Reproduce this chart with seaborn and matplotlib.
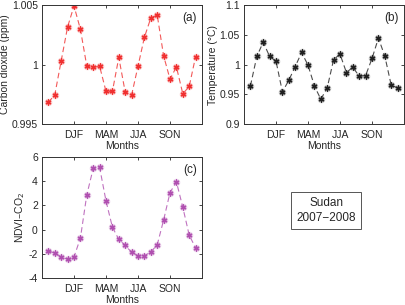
import numpy as np
import pandas as pd
import matplotlib
matplotlib.use('Agg')
import matplotlib.pyplot as plt
import seaborn as sns

# values (24 months each)
months = list(range(1, 25))
co2 = [0.99682, 0.99746, 1.00031, 1.00316, 1.00492, 1.00296, 0.99986, 0.99975,
       0.99986, 0.99774, 0.99774, 1.00059, 0.99768, 0.99743, 0.99986, 1.00229,
       1.00391, 1.00416, 1.00073, 0.99877, 0.99980, 0.99754, 0.99816, 1.00067]
temp = [0.964, 1.0135, 1.0376, 1.0135, 1.0056, 0.954, 0.9736, 0.9966,
        1.0202, 0.9989, 0.964, 0.9416, 0.9607, 1.0084, 1.0174, 0.9865,
        0.9955, 0.9803, 0.9815, 1.0101, 1.0444, 1.014, 0.9652, 0.9607]
ndvi = [-1.73, -1.96, -2.26, -2.45, -2.26, -0.70, 2.87, 5.06,
        5.14, 2.37, 0.20, -0.81, -1.31, -1.87, -2.17, -2.17,
        -1.84, -1.26, 0.79, 3.06, 3.95, 1.84, -0.46, -1.51]
season_pos = [5, 10, 15, 20]
season_lbl = ['DJF', 'MAM', 'JJA', 'SON']

sns.set_style('ticks')
plt.rcParams['font.family'] = ['Liberation Sans', 'DejaVu Sans']
plt.rcParams['axes.unicode_minus'] = False
plt.rcParams['xtick.direction'] = 'in'
plt.rcParams['ytick.direction'] = 'in'

fig = plt.figure(figsize=(4.05, 3.05), dpi=100)
ax_a = fig.add_axes([0.1037, 0.5934, 0.3951, 0.3902])
ax_b = fig.add_axes([0.6025, 0.5934, 0.3951, 0.3902])
ax_c = fig.add_axes([0.1037, 0.0885, 0.3951, 0.3967])

panels = [
    (ax_a, co2, '#f03030', 'Carbon dioxide (ppm)', (0.995, 1.005), [0.995, 1, 1.005], ['0.995', '1', '1.005'], '(a)'),
    (ax_b, temp, '#202020', 'Temperature (\u00b0C)', (0.9, 1.1), [0.9, 0.95, 1, 1.05, 1.1], ['0.9', '0.95', '1', '1.05', '1.1'], '(b)'),
    (ax_c, ndvi, '#b050b0', 'NDVI\u2013CO$_2$', (-4, 6), [-4, -2, 0, 2, 4, 6], ['-4', '-2', '0', '2', '4', '6'], '(c)'),
]

for ax, vals, col, ylab, ylim, yt, ytl, tag in panels:
    df = pd.DataFrame({'month': months, 'value': vals})
    sns.lineplot(data=df, x='month', y='value', ax=ax, color=col, linewidth=0.8,
                 linestyle=(0, (5, 3)), alpha=0.8)
    # soft halo + asterisk marker
    sns.scatterplot(data=df, x='month', y='value', ax=ax, color=col, alpha=0.22,
                    s=30, marker='o', linewidth=0)
    sns.scatterplot(data=df, x='month', y='value', ax=ax, color=col,
                    s=12, marker=(6, 2, 0), linewidth=1.0, edgecolor=col)
    ax.set_xlim(0, 25)
    ax.set_ylim(*ylim)
    ax.set_xticks(season_pos)
    ax.set_xticklabels(season_lbl)
    ax.set_yticks(yt)
    ax.set_yticklabels(ytl)
    ax.tick_params(labelsize=7.5, length=2.5, width=0.6, top=True, right=True)
    ax.tick_params(axis='x', pad=4)
    ax.tick_params(axis='y', pad=3)
    ax.set_xlabel('Months', fontsize=7.5, labelpad=1)
    ax.set_ylabel(ylab, fontsize=7.5, labelpad=1)
    for s in ax.spines.values():
        s.set_linewidth(0.7)
        s.set_color('#333333')
    ax.text(0.97, 0.94, tag, transform=ax.transAxes, ha='right', va='top', fontsize=8.5)

fig.text(0.805, 0.31, 'Sudan\n2007\u22122008', ha='center', va='center', fontsize=8.5,
         linespacing=1.3,
         bbox=dict(boxstyle='square,pad=0.45', facecolor='white', edgecolor='#555555', linewidth=0.7))

fig.savefig('out.png', dpi=100)
plt.close(fig)
